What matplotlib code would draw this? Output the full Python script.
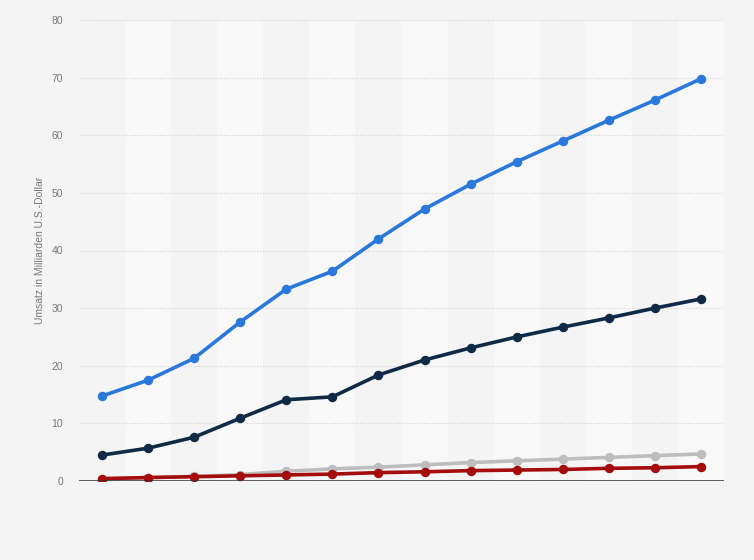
import numpy as np
import matplotlib.pyplot as plt

plt.rcParams['font.family'] = ['Liberation Sans', 'DejaVu Sans']

# Umsatz in Milliarden U.S.-Dollar, 14 Zeitpunkte (ohne Beschriftung der x-Achse)
points = list(range(14))
series_blue = [14.75, 17.5, 21.3, 27.6, 33.3, 36.4, 42.0, 47.2, 51.5, 55.4, 59.0, 62.6, 66.1, 69.8]
series_navy = [4.5, 5.7, 7.6, 10.9, 14.1, 14.6, 18.4, 21.0, 23.1, 25.0, 26.7, 28.3, 30.0, 31.6]
series_gray = [0.4, 0.6, 0.8, 1.1, 1.7, 2.1, 2.4, 2.8, 3.2, 3.5, 3.8, 4.1, 4.4, 4.7]
series_red = [0.4, 0.6, 0.75, 0.9, 1.05, 1.2, 1.45, 1.6, 1.8, 1.9, 2.0, 2.2, 2.3, 2.5]
y_ticks = [0, 10, 20, 30, 40, 50, 60, 70, 80]

bg = '#f4f4f4'
fig = plt.figure(figsize=(7.54, 5.6), dpi=100, facecolor=bg)
ax = fig.add_axes([79 / 754, 1 - 481 / 560, 645 / 754, 461 / 560])
ax.set_facecolor(bg)

# alternating column stripes
for i in points:
    if i % 2 == 1:
        ax.axvspan(i - 0.5, i + 0.5, color='#f8f8f8', zorder=0, lw=0)

for y in y_ticks[1:]:
    ax.axhline(y, color='#d4d4d4', lw=0.8, ls=(0, (1, 1.5)), zorder=1)
ax.axhline(0, color='#333333', lw=1.1, zorder=5)

line_kw = dict(lw=2.6, marker='o', markersize=5.8, zorder=4, solid_capstyle='round')
ax.plot(points, series_gray, color='#bdbdbd', **line_kw)
ax.plot(points, series_red, color='#a50c0c', **line_kw)
ax.plot(points, series_navy, color='#0e2a47', **line_kw)
ax.plot(points, series_blue, color='#2a78dc', **line_kw)

ax.set_xlim(-0.5, 13.5)
ax.set_ylim(0, 80)
ax.set_xticks([])
ax.set_yticks(y_ticks)
ax.tick_params(axis='y', length=0, pad=11.5, labelsize=7.5, labelcolor='#777777')
for s in ax.spines.values():
    s.set_visible(False)

ax.set_ylabel('Umsatz in Milliarden U.S.-Dollar', fontsize=7.5, color='#777777', va='center')
ax.yaxis.set_label_coords(-39 / 645, 0.5)

fig.savefig('out.png', dpi=100, facecolor=bg)
